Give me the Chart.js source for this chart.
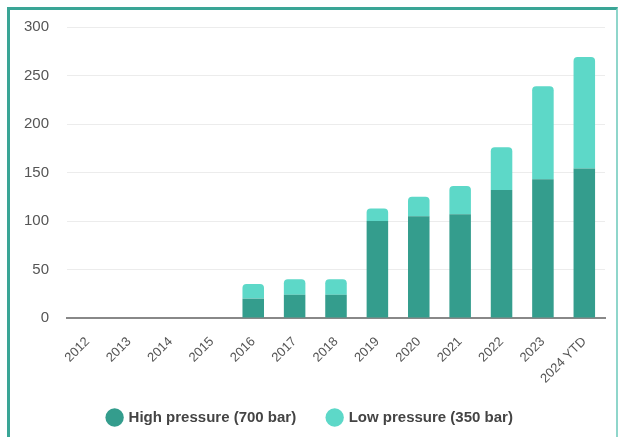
<!DOCTYPE html>
<html>
<head>
<meta charset="utf-8">
<script src="https://cdn.jsdelivr.net/npm/chart.js@4"></script>
<style>
  body { margin: 0; background: #fff; overflow: hidden; }
  #frame {
    position: absolute; left: 7px; top: 7px; width: 606px; height: 440px;
    border-left: 3px solid #3aa596; border-top: 3px solid #3aa596; border-right: 2px solid #8fd6cb;
  }
  #wrap { position: absolute; left: 0; top: 0; width: 618px; height: 437px; }
</style>
</head>
<body>
<div id="frame"></div>
<div id="wrap"><canvas id="chart" width="618" height="437"></canvas></div>
<script>
const years = ["2012", "2013", "2014", "2015", "2016", "2017", "2018", "2019", "2020", "2021", "2022", "2023", "2024 YTD"];
// stations per year
const highPressure = [0, 0, 0, 0, 20, 24, 24, 100, 105, 107, 132, 143, 154];
const lowPressure = [0, 0, 0, 0, 15, 16, 16, 13, 20, 29, 44, 96, 115];
const yTicks = [0, 50, 100, 150, 200, 250, 300];

// centre the legend on the whole card, not on the padded area
const legendShift = {
    id: "legendShift",
    afterLayout(chart) {
        chart.legend.left += 8;
        chart.legend.right += 8;
    }
};

new Chart(document.getElementById("chart"), {
    type: "bar",
    data: {
        labels: years,
        datasets: [{
            label: "High pressure (700 bar)",
            data: highPressure,
            backgroundColor: "#349d8d",
            barPercentage: 0.52,
            categoryPercentage: 1
        }, {
            label: "Low pressure (350 bar)",
            data: lowPressure,
            backgroundColor: "#5dd8c8",
            borderRadius: { topLeft: 4, topRight: 4 },
            borderSkipped: false,
            barPercentage: 0.52,
            categoryPercentage: 1
        }]
    },
    plugins: [legendShift],
    options: {
        responsive: false,
        animation: false,
        layout: { padding: { left: 0, right: 13, top: 20, bottom: 2 } },
        scales: {
            x: {
                stacked: true,
                grid: { display: false },
                border: { color: "#888", width: 2 },
                afterFit: (axis) => {
                    axis.height = 60;
                    axis._computeLabelArea = () => null; // let the long last label spill under
                },
                ticks: {
                    color: "#555",
                    font: { family: "Liberation Sans, Arial", size: 13 },
                    maxRotation: 45, minRotation: 45,
                    padding: 8
                }
            },
            y: {
                stacked: true,
                min: 0, max: 300,
                afterBuildTicks: (axis) => { axis.ticks = yTicks.map(v => ({ value: v })); },
                afterFit: (axis) => { axis.width = 67; },
                grid: { color: "#ececec", drawTicks: false },
                border: { display: false },
                ticks: {
                    color: "#555",
                    font: { family: "Liberation Sans, Arial", size: 15 },
                    padding: 18
                }
            }
        },
        plugins: {
            tooltip: { enabled: false },
            legend: {
                position: "bottom",
                labels: {
                    usePointStyle: true,
                    pointStyle: "circle",
                    boxWidth: 13, boxHeight: 13,
                    padding: 32,
                    color: "#444",
                    font: { family: "Liberation Sans, Arial", size: 15, weight: "bold" }
                }
            }
        }
    }
});
</script>
</body>
</html>
